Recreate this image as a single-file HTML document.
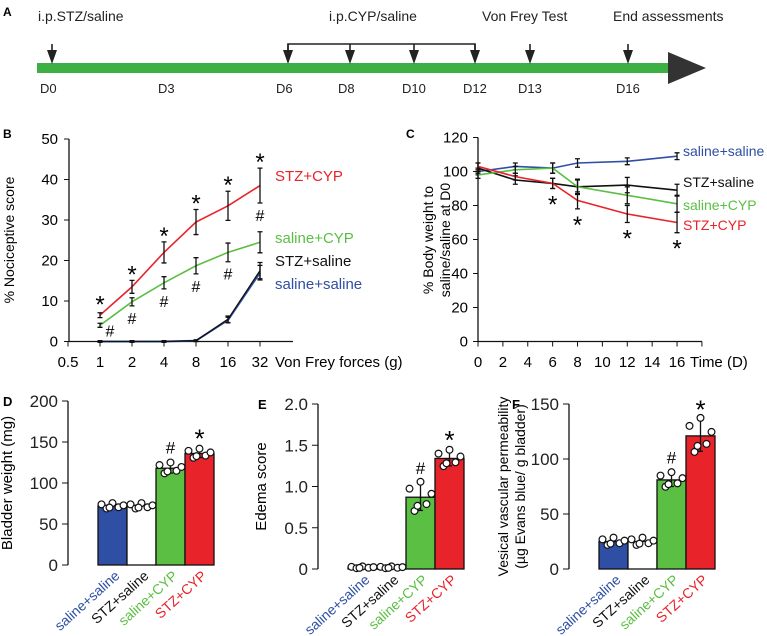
<!DOCTYPE html>
<html><head><meta charset="utf-8"><style>
html,body{margin:0;padding:0;background:#fff}
svg{display:block;font-family:"Liberation Sans",Arial,sans-serif}
</style></head><body>
<svg id="fig" width="767" height="636" viewBox="0 0 767 636">
<g>
<text x="3" y="16" font-size="12" font-weight="bold">A</text>
<rect x="37" y="63" width="636" height="10" fill="#3cb043"/>
<polygon points="668,52 706,68 668,84" fill="#333"/>
<polyline points="288,62 288,44 475,44 475,62" fill="none" stroke="#222" stroke-width="1.6"/>
<g id="arrows"></g>
<g font-size="14" fill="#222">
<text x="38" y="21">i.p.STZ/saline</text>
<text x="329" y="21">i.p.CYP/saline</text>
<text x="482" y="21">Von Frey Test</text>
<text x="613" y="21">End assessments</text>
</g>
<g id="days" font-size="13" fill="#222"></g>
</g>
<g id="pb"></g>
<g id="pc"></g>
<g id="pd"></g>
<g id="pe"></g>
<g id="pf"></g>
</svg>
<script>
const NS="http://www.w3.org/2000/svg";
// Timeline
const tlDays=["D0","D3","D6","D8","D10","D12","D13","D16"];
const tlX=[52,170,288,350,414,475,530,628];
const tlArrowDays=["D0","D6","D8","D10","D12","D13","D16"];
// Panel B
const bForces=[1,2,4,8,16,32];
const bTicks=[0.5,1,2,4,8,16,32];
const bYTicks=[0,10,20,30,40,50];
const bStzCyp=[6.5,13.5,22,29.5,33.5,38.5];
const bStzCypErr=[0.6,1.6,2.6,3.1,3.6,4.3];
const bSalCyp=[4,9.8,14.5,18.7,22,24.5];
const bSalCypErr=[0.5,1,1.5,2,2.3,2.6];
const bStzSal=[0,0,0,0.2,5.5,17.5];
const bStzSalErr=[0.2,0.2,0.2,0.2,0.8,2];
const bSalSal=[0,0,0,0.2,5.3,17];
const bSalSalErr=[0.2,0.2,0.2,0.2,0.7,1.8];
// Panel C
const cDays=[0,3,6,8,12,16];
const cXTicks=[0,2,4,6,8,10,12,14,16];
const cYTicks=[0,20,40,60,80,100,120];
const cSalSal=[100,103,102,105,106,109];
const cSalSalErr=[2,2,3,2.5,2,2];
const cStzSal=[102,95,93,91,92,89];
const cStzSalErr=[3,2.5,3,4.5,4.5,3.5];
const cSalCyp=[98,101,102,91,86,81];
const cSalCypErr=[2,2,3,4,5,5];
const cStzCyp=[103,97,93,83,75,70];
const cStzCypErr=[2,2,3,5,5,6];
// Bars
const groups=["saline+saline","STZ+saline","saline+CYP","STZ+CYP"];
const dVals=[72,72,118,136];
const dErr=[3,3,6,5];
const dYTicks=[0,50,100,150,200];
const eVals=[0.02,0.02,0.87,1.34];
const eErr=[0.01,0.01,0.16,0.09];
const eYTicks=[0,0.5,1.0,1.5,2.0];
const fVals=[25,25,81,121];
const fErr=[3,3,6,14];
const fYTicks=[0,50,100,150];

const COL={blue:"#2e4fa3",black:"#111",green:"#5bbf43",red:"#e8232a"};
const gCol=[COL.blue,"#fff",COL.green,COL.red];
const gText=[COL.blue,COL.black,COL.green,COL.red];
function el(p,t,a,txt){const e=document.createElementNS(NS,t);for(const k in a)e.setAttribute(k,a[k]);if(txt!==undefined)e.textContent=txt;p.appendChild(e);return e;}

// timeline
const arrG=document.getElementById('arrows'),dayG=document.getElementById('days');
tlDays.forEach((d,i)=>{const t=el(dayG,'text',{x:tlX[i]-12,y:93},d);

});
tlArrowDays.forEach(d=>{const x=tlX[tlDays.indexOf(d)];
const l=el(arrG,'line',{x1:x,y1:44,x2:x,y2:58,stroke:"#222","stroke-width":1.6});


const h=el(arrG,'polygon',{points:`${x-5},50 ${x+5},50 ${x},64`,fill:"#222"});

});

function errbar(g,x,y,e,sy){const a=sy(y-e),b=sy(y+e);
const p=el(g,'path',{d:`M${x},${a}V${b}M${x-2.5},${a}H${x+2.5}M${x-2.5},${b}H${x+2.5}`,stroke:"#111","stroke-width":1.3,fill:"none"});

}

// Panel B
(function(){const g=document.getElementById('pb');
const sx=v=>100+32*Math.log2(v), sy=v=>341.5-v*4.05;
el(g,'text',{x:3,y:138,"font-size":12,"font-weight":"bold"},"B");
el(g,'line',{x1:69,y1:sy(50),x2:69,y2:sy(0),stroke:"#111","stroke-width":1.3});
el(g,'line',{x1:69,y1:sy(0),x2:293,y2:sy(0),stroke:"#111","stroke-width":1.3});
bYTicks.forEach(v=>{el(g,'line',{x1:64,y1:sy(v),x2:69,y2:sy(v),stroke:"#111"});
const t=el(g,'text',{x:58,y:sy(v)+5,"font-size":15,"text-anchor":"end"},v);

});
bTicks.forEach(v=>{el(g,'line',{x1:sx(v),y1:sy(0),x2:sx(v),y2:sy(0)+5,stroke:"#111"});
const t=el(g,'text',{x:sx(v),y:367,"font-size":15,"text-anchor":"middle"},v);

});
el(g,'text',{x:275,y:367,"font-size":15},"Von Frey forces (g)");
el(g,'text',{transform:"translate(14,240) rotate(-90)","font-size":14,"text-anchor":"middle"},"% Nociceptive score");
const ser=[[bSalSal,bSalSalErr,COL.blue,2],[bStzSal,bStzSalErr,COL.black,1.3],[bSalCyp,bSalCypErr,COL.green,1.6],[bStzCyp,bStzCypErr,COL.red,1.6]];
ser.forEach(([v,e,c,w])=>{const p=el(g,'polyline',{points:bForces.map((f,i)=>sx(f)+","+sy(v[i])).join(" "),fill:"none",stroke:c,"stroke-width":w});


bForces.forEach((f,i)=>errbar(g,sx(f),v[i],e[i],sy));});
bForces.forEach((f,i)=>{const t=el(g,'text',{x:sx(f),y:sy(bStzCyp[i]+bStzCypErr[i])+2-(i==0?2:0),"font-size":24,"text-anchor":"middle"},"*");


let hx=sx(f),hy=sy(bSalCyp[i]-bSalCypErr[i])+18;
if(i==0){hx+=10;hy=sy(0)-5;} if(i==5){hy=sy(bStzCyp[i]-bStzCypErr[i])+18;}
const h=el(g,'text',{x:hx,y:hy,"font-size":16,"text-anchor":"middle"},"#");

});
[["STZ+CYP",181,COL.red],["saline+CYP",243,COL.green],["STZ+saline",266,COL.black],["saline+saline",289,COL.blue]].forEach(([t,y,c])=>{const e=el(g,'text',{x:275,y:y,"font-size":15,fill:c},t);

});
})();

// Panel C
(function(){const g=document.getElementById('pc');
const sx=v=>478+v*12.44, sy=v=>341.5-v*1.70;
el(g,'text',{x:406,y:138,"font-size":12,"font-weight":"bold"},"C");
el(g,'line',{x1:478,y1:sy(120),x2:478,y2:sy(0),stroke:"#111","stroke-width":1.3});
el(g,'line',{x1:478,y1:sy(0),x2:702,y2:sy(0),stroke:"#111","stroke-width":1.3});
cYTicks.forEach(v=>{el(g,'line',{x1:473,y1:sy(v),x2:478,y2:sy(v),stroke:"#111"});
const t=el(g,'text',{x:468,y:sy(v)+5,"font-size":15,"text-anchor":"end"},v);

});
cXTicks.forEach(v=>{el(g,'line',{x1:sx(v),y1:sy(0),x2:sx(v),y2:sy(0)+5,stroke:"#111"});
const t=el(g,'text',{x:sx(v),y:367,"font-size":15,"text-anchor":"middle"},v);

});
el(g,'line',{x1:sx(18),y1:sy(0),x2:sx(18),y2:sy(0)+5,stroke:"#111"});
el(g,'text',{x:690,y:367,"font-size":15},"Time (D)");
el(g,'text',{transform:"translate(433,240) rotate(-90)","font-size":14,"text-anchor":"middle"},"% Body weight to");
el(g,'text',{transform:"translate(450,240) rotate(-90)","font-size":14,"text-anchor":"middle"},"saline/saline at D0");
[[cSalSal,cSalSalErr,COL.blue],[cStzSal,cStzSalErr,COL.black],[cSalCyp,cSalCypErr,COL.green],[cStzCyp,cStzCypErr,COL.red]].forEach(([v,e,c])=>{
const p=el(g,'polyline',{points:cDays.map((d,i)=>sx(d)+","+sy(v[i])).join(" "),fill:"none",stroke:c,"stroke-width":1.6});


cDays.forEach((d,i)=>errbar(g,sx(d),v[i],e[i],sy));});
cDays.forEach((d,i)=>{if(i<2)return;const t=el(g,'text',{x:sx(d),y:sy(cStzCyp[i]-cStzCypErr[i])+24,"font-size":24,"text-anchor":"middle"},"*");

});
[["saline+saline",156,COL.blue],["STZ+saline",187,COL.black],["saline+CYP",210,COL.green],["STZ+CYP",230,COL.red]].forEach(([t,y,c])=>{const e=el(g,'text',{x:683,y:y,"font-size":14,fill:c},t);

});
})();

// Bar panels
function barPanel(id,letter,lx,ax,y0,ytop,ymax,ticks,vals,errs,bx0,bw,fmt,titles,tfs){
const g=document.getElementById(id);const sy=v=>y0-(v/ymax)*(y0-ytop);
el(g,'text',{x:lx,y:ytop+5,"font-size":13,"font-weight":"bold"},letter);
el(g,'line',{x1:ax,y1:sy(ymax),x2:ax,y2:y0,stroke:"#111","stroke-width":1.3});
ticks.forEach(v=>{el(g,'line',{x1:ax-6,y1:sy(v),x2:ax,y2:sy(v),stroke:"#111"});
const t=el(g,'text',{x:ax-10,y:sy(v)+6,"font-size":17,"text-anchor":"end",fill:"#222"},fmt(v));

});
titles.forEach(([t,x])=>el(g,'text',{transform:`translate(${x},${(ytop+y0)/2}) rotate(-90)`,"font-size":tfs,"text-anchor":"middle"},t));
vals.forEach((v,i)=>{const x=bx0+i*bw;
const r=el(g,'rect',{x:x,y:sy(v),width:bw,height:y0-sy(v),fill:gCol[i],stroke:"#111","stroke-width":1.3});


const c=x+bw/2;
if(errs[i]/ymax>0.02)errbar(g,c,v,errs[i],sy);
const offs=[-11,-6,0,6,11,-3];const dv=[0.5,-0.8,0.9,-0.4,0.2,-0.5];
offs.forEach((o,k)=>{const cy=sy(v+dv[k]*errs[i]*1.3);const ci=el(g,'circle',{cx:c+o,cy:cy,r:3.4,fill:"#fff",stroke:"#111","stroke-width":1.2});

});
const lab=el(g,'text',{transform:`translate(${c+8},${y0+12}) rotate(-42)`,"font-size":14,"text-anchor":"end",fill:gText[i]},groups[i]);

});
const gx=bx0+2.5*bw,rx=bx0+3.5*bw;
el(g,'text',{x:gx,y:sy(vals[2]+errs[2])-10,"font-size":17,"text-anchor":"middle"},"#");
el(g,'text',{x:rx,y:sy(vals[3]+errs[3])-2,"font-size":26,"text-anchor":"middle"},"*");
}
barPanel('pd',"D",3,68,565,401,200,dYTicks,dVals,dErr,98,29,v=>v,[["Bladder weight (mg)",12]],15);
barPanel('pe',"E",258,318,569,404,2,eYTicks,eVals,eErr,348,29,v=>v==0?"0":v.toFixed(1),[["Edema score",266]],15);
barPanel('pf',"F",512,569,569,404,150,fYTicks,fVals,fErr,599,29,v=>v,[["Vesical vascular permeability",508],["(µg Evans blue/ g bladder)",525]],14);
</script>
</body></html>
